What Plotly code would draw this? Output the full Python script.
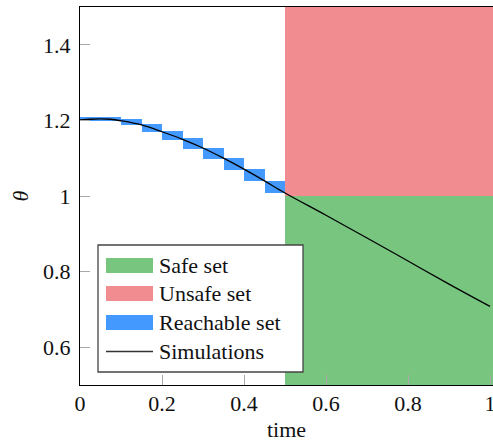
import plotly.graph_objects as go

# ---- data ----
sim_t = [0.0, 0.025, 0.05, 0.075, 0.1, 0.15, 0.2, 0.25, 0.3, 0.35, 0.4, 0.45, 0.5,
         0.6, 0.7, 0.8, 0.9, 1.0]
sim_theta = [1.201, 1.203, 1.204, 1.203, 1.199, 1.188, 1.170, 1.150, 1.127, 1.100,
             1.071, 1.040, 1.008, 0.949, 0.889, 0.828, 0.767, 0.708]

reach_t0 = [0.00, 0.05, 0.10, 0.15, 0.20, 0.25, 0.30, 0.35, 0.40, 0.45]
reach_t1 = [0.05, 0.10, 0.15, 0.20, 0.25, 0.30, 0.35, 0.40, 0.45, 0.50]
reach_lo = [1.199, 1.199, 1.187, 1.169, 1.148, 1.124, 1.097, 1.068, 1.039, 1.007]
reach_hi = [1.208, 1.208, 1.205, 1.191, 1.173, 1.153, 1.128, 1.101, 1.072, 1.040]

safe_t = [0.5, 1.02]
safe_theta = [0.5, 1.0]
unsafe_t = [0.5, 1.02]
unsafe_theta = [1.0, 1.5]

x_ticks = [0, 0.2, 0.4, 0.6, 0.8, 1.0]
x_ticktext = ["0", "0.2", "0.4", "0.6", "0.8", "1"]
y_ticks = [0.6, 0.8, 1.0, 1.2, 1.4]
y_ticktext = ["0.6", "0.8", "1", "1.2", "1.4"]

legend_labels = ["Safe set", "Unsafe set", "Reachable set", "Simulations"]

GREEN = "rgb(119,197,127)"
RED = "rgb(241,141,145)"
BLUE = "rgb(68,153,255)"
FONT = "Liberation Serif"

fig = go.Figure()

def add_rect(t, th, color):
    fig.add_trace(go.Bar(
        x=[(t[0] + t[1]) / 2], y=[th[1] - th[0]], base=[th[0]],
        width=[t[1] - t[0]], marker=dict(color=color, line=dict(width=0)),
        showlegend=False, hoverinfo="skip"))

add_rect(safe_t, safe_theta, GREEN)
add_rect(unsafe_t, unsafe_theta, RED)

fig.add_trace(go.Bar(
    x=[(a + b) / 2 for a, b in zip(reach_t0, reach_t1)],
    y=[h - l for l, h in zip(reach_lo, reach_hi)],
    base=reach_lo,
    width=[b - a for a, b in zip(reach_t0, reach_t1)],
    marker=dict(color=BLUE, line=dict(width=0)),
    showlegend=False, hoverinfo="skip"))

fig.add_trace(go.Scatter(
    x=sim_t, y=sim_theta, mode="lines", line=dict(color="black", width=1.3, shape="spline"),
    showlegend=False))

# ---- manual legend (pgfplots style) ----
def px2x(px):
    return (px - 80) / 413.0

def py2y(py):
    return (385 - py) / 378.0

fig.add_shape(type="rect", xref="paper", yref="paper",
              x0=px2x(98), x1=px2x(303), y0=py2y(372), y1=py2y(245),
              fillcolor="white", line=dict(color="#444", width=1.3), layer="above")

centers = [265.5, 293.5, 322.5, 351.5]
sw_colors = [GREEN, RED, BLUE, None]
for label, cy, col in zip(legend_labels, centers, sw_colors):
    if col is not None:
        fig.add_shape(type="rect", xref="paper", yref="paper",
                      x0=px2x(106), x1=px2x(153), y0=py2y(cy + 7.5), y1=py2y(cy - 7.5),
                      fillcolor=col, line=dict(width=0), layer="above")
    else:
        fig.add_shape(type="line", xref="paper", yref="paper",
                      x0=px2x(106), x1=px2x(153), y0=py2y(cy), y1=py2y(cy),
                      line=dict(color="#333", width=1.3), layer="above")
    fig.add_annotation(x=px2x(157), y=py2y(cy), xref="paper", yref="paper",
                       text=label, showarrow=False, xanchor="left", yanchor="middle",
                       font=dict(family=FONT, size=22, color="#111"))

fig.update_layout(
    width=493, height=442,
    margin=dict(l=80, r=0, t=7, b=57, autoexpand=False),
    plot_bgcolor="white", paper_bgcolor="white",
    barmode="overlay", bargap=0,
    font=dict(family=FONT, size=22, color="#111"),
    showlegend=False,
)
fig.update_xaxes(
    range=[0, 1.0073], tickvals=x_ticks, ticktext=x_ticktext,
    showgrid=False, zeroline=False, showline=True, linecolor="black", linewidth=1.2,
    mirror=True, ticks="inside", ticklen=10, tickcolor="#aaa", tickwidth=1,
    ticklabelstandoff=-2, ticklabeloverflow="allow", automargin=False,
    title=dict(text="time", font=dict(family=FONT, size=22), standoff=14),
)
fig.update_yaxes(
    range=[0.5, 1.5], tickvals=y_ticks, ticktext=y_ticktext,
    showgrid=False, zeroline=False, showline=True, linecolor="black", linewidth=1.2,
    ticks="inside", ticklen=10, tickcolor="#aaa", tickwidth=1,
    ticklabelstandoff=4, ticklabeloverflow="allow", automargin=False,
    title=dict(text="<i>θ</i>", font=dict(family=FONT, size=22), standoff=8),
)

fig.write_html(
    "out.html",
    config={"displayModeBar": False},
    post_script="document.body.style.margin='0';document.body.style.overflow='hidden';",
)
